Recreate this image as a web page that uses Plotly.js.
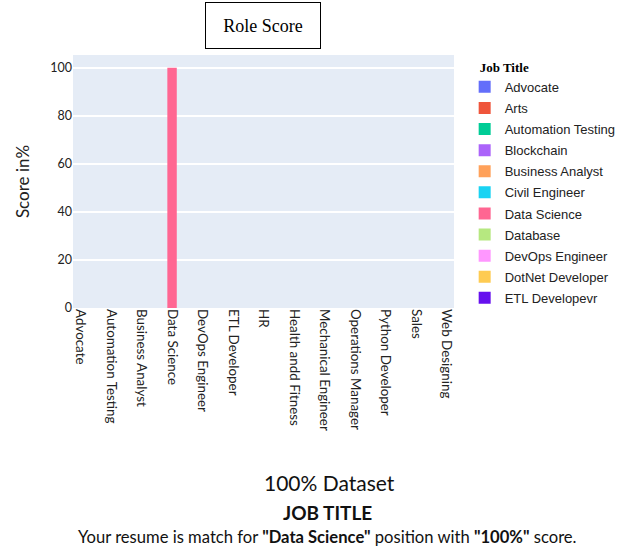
<!DOCTYPE html>
<html>
<head>
<meta charset="utf-8">
<script src="https://cdn.plot.ly/plotly-3.0.1.min.js"></script>
<style>
html,body{margin:0;padding:0;background:#fff;}
#chart{width:629px;height:553px;}
</style>
</head>
<body>
<div id="chart"></div>
<script>
// Categories on the x-axis (alphabetical job titles)
const jobTitles = ["Advocate","Arts","Automation Testing","Blockchain","Business Analyst","Civil Engineer","Data Science","Database","DevOps Engineer","DotNet Developer","ETL Developer","Electrical Engineering","HR","Hadoop","Health andd Fitness","Java Developer","Mechanical Engineer","Network Security Engineer","Operations Manager","PMO","Python Developer","SAP Developer","Sales","Testing","Web Designing"];
// Legend labels as shown in the legend
const legendNames = ["Advocate","Arts","Automation Testing","Blockchain","Business Analyst","Civil Engineer","Data Science","Database","DevOps Engineer","DotNet Developer","ETL Developevr","Electrical Engineering","HR","Hadoop","Health andd Fitness","Java Developer","Mechanical Engineer","Network Security Engineer","Operations Manager","PMO","Python Developer","SAP Developer","Sales","Testing","Web Designing"];
// Scores in %
const scores = [0,0,0,0,0,0,100,0,0,0,0,0,0,0,0,0,0,0,0,0,0,0,0,0,0];
const palette = ["#636EFA","#EF553B","#00CC96","#AB63FA","#FFA15A","#19D3F3","#FF6692","#B6E880","#FF97FF","#FECB52","#6610EE"];
const legendShown = 11;

const traces = jobTitles.map((t, i) => ({
  type: "bar",
  x: [t],
  y: [scores[i]],
  name: legendNames[i],
  legendgroup: "g" + i,
  marker: {color: palette[i % palette.length]},
  width: 0.62,
  showlegend: i < legendShown,
  hoverinfo: "x+y"
}));

const layout = {
  width: 629, height: 553,
  margin: {l: 73, r: 175, t: 55, b: 245, autoexpand: false},
  paper_bgcolor: "#ffffff",
  plot_bgcolor: "#E5ECF6",
  barmode: "relative",
  showlegend: true,
  legend: {
    title: {text: "&nbsp;&nbsp;&nbsp;&nbsp;<b>Job Title</b>", font: {family: "Liberation Serif", size: 13, color: "#000"}},
    font: {family: "Liberation Sans", size: 13, color: "#222"},
    tracegroupgap: 1.2,
    maxheight: 450,
    x: 1.028, y: 1, xanchor: "left", yanchor: "top"
  },
  xaxis: {
    type: "category",
    categoryorder: "array", categoryarray: jobTitles,
    tickmode: "linear", tick0: 0, dtick: 2,
    tickangle: 90,
    tickfont: {family: "Lato", size: 13.4, color: "#222"},
    showgrid: false, zeroline: false
  },
  yaxis: {
    title: {text: "Score in%", font: {family: "Lato", size: 17, color: "#222"}, standoff: 16},
    tickfont: {family: "Lato", size: 12.5, color: "#222"},
    gridcolor: "#ffffff", gridwidth: 2,
    zeroline: false,
    dtick: 20
  },
  annotations: [
    {text: "Role Score", xref: "paper", yref: "paper", x: (263 - 73) / 381, y: (553 - 245 - 25.5) / 253,
     yanchor: "middle", xanchor: "center", showarrow: false,
     font: {family: "Liberation Serif", size: 18, color: "#000"},
     bordercolor: "#000", borderwidth: 1, width: 112, height: 43, bgcolor: "#fff"},
    {text: "100% Dataset", xref: "paper", yref: "paper", x: (329 - 73) / 381, y: -(482 - 308) / 253,
     yanchor: "middle", xanchor: "center", showarrow: false,
     font: {family: "Lato", size: 21, color: "#111"}},
    {text: "<b>JOB TITLE</b>", xref: "paper", yref: "paper", x: (327 - 73) / 381, y: -(512 - 308) / 253,
     yanchor: "middle", xanchor: "center", showarrow: false,
     font: {family: "Lato", size: 19, color: "#111"}},
    {text: "Your resume is match for <b>\"Data Science\"</b> position with <b>\"100%\"</b> score.", xref: "paper", yref: "paper", x: (327 - 73) / 381, y: -(537 - 308) / 253,
     yanchor: "middle", xanchor: "center", showarrow: false,
     font: {family: "Lato", size: 16.6, color: "#111"}}
  ]
};

Plotly.newPlot("chart", traces, layout, {displayModeBar: false, responsive: false});
</script>
</body>
</html>
